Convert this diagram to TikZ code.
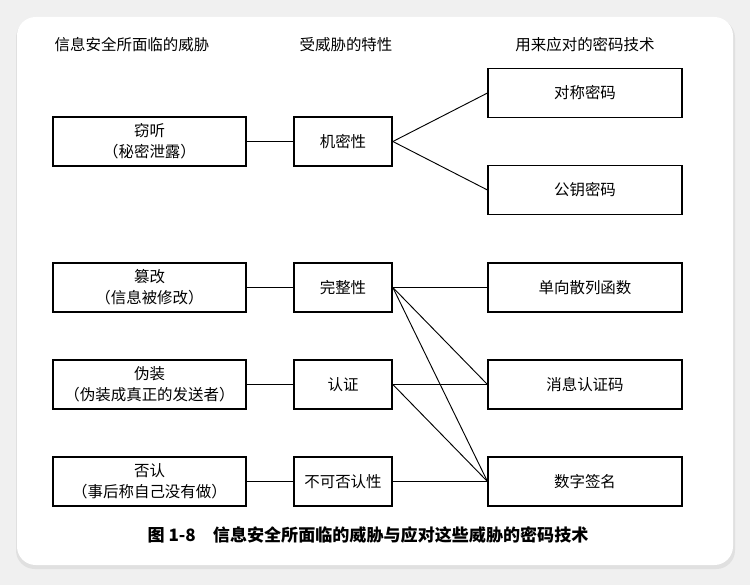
\documentclass[tikz,border=0pt]{standalone}
\usepackage{fontspec}
\newfontfamily\cjk{Noto Sans CJK SC}
\begin{document}
\begin{tikzpicture}[x=0.75pt, y=-0.75pt, line join=miter,
	every node/.style={font=\cjk\fontsize{11.6}{16}\selectfont, align=center, inner sep=0pt},
	box/.style={draw, line width=1.3pt, minimum height=36.75pt},
	wide/.style={box, minimum width=145pt},
	narrow/.style={box, minimum width=73.5pt},
	link/.style={line width=0.7pt}]
	\useasboundingbox (0,0) rectangle (750,585);
	% 背景与卡片
	\fill[black!6] (0,0) rectangle (750,585);
	\fill[black!12, rounded corners=14pt] (16,19) rectangle (735,569);
	\fill[white, rounded corners=14pt] (17,17) rectangle (733,565);
	
	% 标题行
	\node (h1) at (132,45) {信息安全所面临的威胁};
	\node (h2) at (346,45) {受威胁的特性};
	\node (h3) at (585,45) {用来应对的密码技术};
	
	% 威胁
	\node[wide] (eaves) at (149.5,141.5) {窃听\\（秘密泄露）};
	\node[wide] (tamper) at (149.5,287.5) {篡改\\（信息被修改）};
	\node[wide] (spoof) at (149.5,384.5) {伪装\\（伪装成真正的发送者）};
	\node[wide] (deny) at (149.5,481.5) {否认\\（事后称自己没有做）};
	
	% 特性
	\node[narrow] (conf) at (343,141.5) {机密性};
	\node[narrow] (integ) at (343,287.5) {完整性};
	\node[narrow] (auth) at (343,384.5) {认证};
	\node[narrow] (nonrep) at (343,481.5) {不可否认性};
	
	% 密码技术
	\node[wide] (sym) at (585,93) {对称密码};
	\node[wide] (pub) at (585,190) {公钥密码};
	\node[wide] (hash) at (585,287.5) {单向散列函数};
	\node[wide] (mac) at (585,384.5) {消息认证码};
	\node[wide] (sig) at (585,481.5) {数字签名};
	
	% 威胁 -- 特性
	\draw[link] (eaves) -- (conf);
	\draw[link] (tamper) -- (integ);
	\draw[link] (spoof) -- (auth);
	\draw[link] (deny) -- (nonrep);
	
	% 特性 -- 技术
	\draw[link] (conf.east) -- (sym.west);
	\draw[link] (conf.east) -- (pub.west);
	\draw[link] (integ.east) -- (hash.west);
	\draw[link] (integ.east) -- (mac.west);
	\draw[link] (integ.east) -- (sig.west);
	\draw[link] (auth.east) -- (mac.west);
	\draw[link] (auth.east) -- (sig.west);
	\draw[link] (nonrep.east) -- (sig.west);
	
	% 图题
	\node[font=\cjk\bfseries\fontsize{12.8}{15}\selectfont] (cap) at (368,535) {图 1-8\quad 信息安全所面临的威胁与应对这些威胁的密码技术};
\end{tikzpicture}
\end{document}
